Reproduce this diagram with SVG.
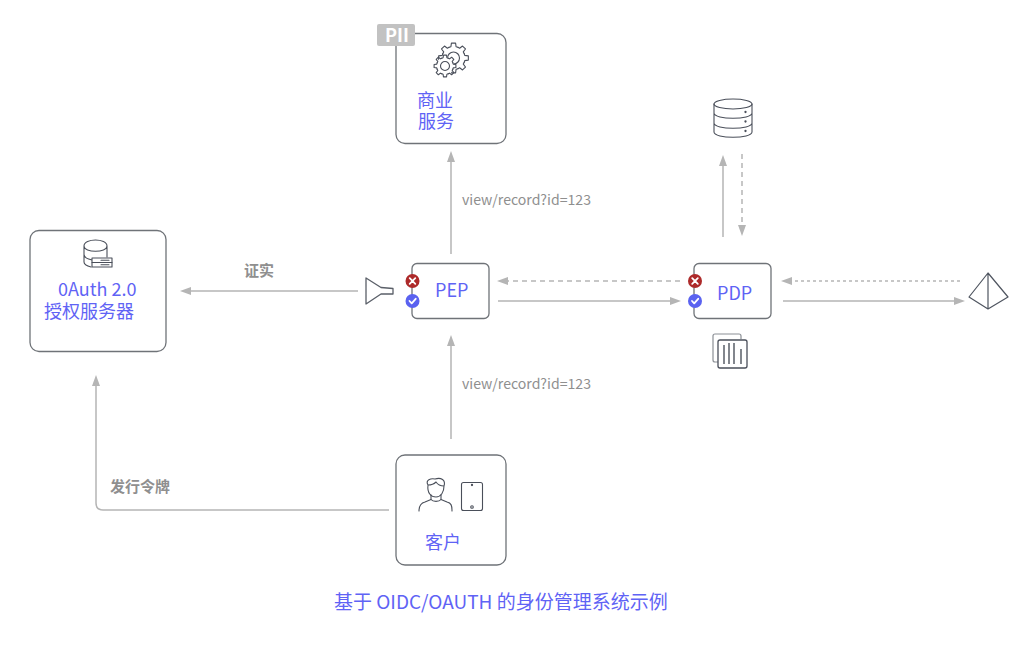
<svg xmlns="http://www.w3.org/2000/svg" width="1024" height="650" viewBox="0 0 1024 650">
<style>
text{font-family:"Noto Sans CJK SC","Noto Sans",sans-serif}
.box{fill:#fff;stroke:#6f7378;stroke-width:1.3}
.lbl{fill:#5f63f5;font-size:18px}
.cap{fill:#8f8f8f;font-size:14.100px}
.bold{fill:#8f8f8f;font-size:15px;font-weight:700}
.ic{fill:none;stroke:#4a4f5a;stroke-width:1.1;stroke-linejoin:round;stroke-linecap:round}
.c{fill:none;stroke:#b5b5b5;stroke-width:1.5}
.d{stroke-dasharray:5 4}
.w{fill:none;stroke:#fff;stroke-width:1.8;stroke-linecap:round;stroke-linejoin:round}
</style>
<defs>
<marker id="a" markerUnits="userSpaceOnUse" markerWidth="12" markerHeight="10" refX="1" refY="4" orient="auto"><path d="M0 4L11 0V8Z" fill="#b5b5b5" transform="translate(11 8) rotate(180)"/></marker>
<g id="x"><circle r="7" fill="#ad2a2a"/><path class="w" d="M-2.800-2.800L2.800 2.800M2.800-2.800L-2.800 2.800"/></g>
<g id="v"><circle r="7" fill="#5a62f0"/><path class="w" d="M-3 0L-.8 2.400L3.200-2.200"/></g>
<path id="s" d="M-3.250-7.820L-1.900-8.250L-1.530-10.900H1.530L1.900-8.250L3.250-7.820"/>
<path id="b" d="M-4.430-10.670L-2.600-11.250L-2.090-14.850H2.090L2.600-11.250L4.430-10.670"/>
</defs>
<rect width="1024" height="650" fill="#fff"/>
<g id="connectors">
<path class="c" d="M451 254V161" marker-end="url(#a)"/>
<path class="c" d="M451 439V345" marker-end="url(#a)"/>
<path class="c" d="M358 291H190" marker-end="url(#a)"/>
<path class="c" d="M389 510H103Q96 510 96 503V385" marker-end="url(#a)"/>
<path class="c d" d="M680 281H507" marker-end="url(#a)"/>
<path class="c" d="M498 301H671" marker-end="url(#a)"/>
<path class="c" d="M723 237V165" marker-end="url(#a)"/>
<path class="c d" d="M742 154V226" marker-end="url(#a)"/>
<path class="c" stroke-dasharray="3 3" d="M960 281H791" marker-end="url(#a)"/>
<path class="c" d="M783 301H955" marker-end="url(#a)"/>
<text class="cap" x="462" y="205">view/record?id=123</text>
<text class="cap" x="462" y="389">view/record?id=123</text>
<text class="bold" x="244" y="276">证实</text>
<text class="bold" x="110" y="492">发行令牌</text>
</g>
<g id="oauth">
<rect class="box" x="30" y="230.500" width="136" height="121" rx="9"/>
<g class="ic"><path d="M84 246C84 238 107 238 107 246V257M84 246C84 253 107 253 107 246M84 246V262C84 265 87 266 91 267M84 254C84 258 88 259 92 260"/><rect x="92" y="258" width="20" height="4.500" fill="#fff"/><rect x="92" y="262.500" width="20" height="4.500" fill="#fff"/><path d="M101 260.300H109M101 264.800H109"/></g>
<text class="lbl" x="58" y="296">0Auth 2.0</text>
<text class="lbl" x="44" y="318">授权服务器</text>
</g>
<g id="pii-service">
<rect class="box" x="396" y="33.500" width="110" height="110" rx="9"/>
<rect x="377" y="24" width="38" height="22" rx="2" fill="#c2c2c2"/>
<text x="385" y="42" font-size="18" font-weight="700" fill="#fff">PII</text>
<g class="ic" transform="translate(453.500 58)">
<use href="#b"/><use href="#b" transform="rotate(45)"/><use href="#b" transform="rotate(90)"/><use href="#b" transform="rotate(135)"/><use href="#b" transform="rotate(180)"/><use href="#b" transform="rotate(225)"/><use href="#b" transform="rotate(270)"/><use href="#b" transform="rotate(315)"/>
<circle r="6"/>
</g>
<g class="ic" transform="translate(445 66)">
<circle r="9" fill="#fff" stroke="none"/>
<use href="#s"/><use href="#s" transform="rotate(45)"/><use href="#s" transform="rotate(90)"/><use href="#s" transform="rotate(135)"/><use href="#s" transform="rotate(180)"/><use href="#s" transform="rotate(225)"/><use href="#s" transform="rotate(270)"/><use href="#s" transform="rotate(315)"/>
<circle r="4.500"/>
</g>
<text class="lbl" x="417" y="107">商业</text>
<text class="lbl" x="418" y="128">服务</text>
</g>
<g id="funnel"><path fill="none" stroke="#5a5f68" stroke-width="1.3" stroke-linejoin="round" d="M366 278L381 287.500L393 288.500V294H381L366 304Z"/></g>
<g id="pep">
<rect class="box" x="412" y="263.500" width="77" height="55" rx="5"/>
<use href="#x" x="412.500" y="281"/><use href="#v" x="412.500" y="301"/>
<text class="lbl" x="435" y="297">PEP</text>
</g>
<g id="pdp">
<rect class="box" x="694" y="263.500" width="77" height="55" rx="5"/>
<use href="#x" x="695" y="281"/><use href="#v" x="695" y="301"/>
<text class="lbl" x="717" y="300">PDP</text>
</g>
<g id="database" class="ic">
<ellipse cx="733" cy="104" rx="19" ry="5"/>
<path d="M714 104V132C714 139 752 139 752 132V104M714 113C714 120 752 120 752 113M714 123C714 130 752 130 752 123"/>
<circle cx="745.500" cy="112" r=".6"/><circle cx="745.500" cy="121.500" r=".6"/><circle cx="745.500" cy="131" r=".6"/>
</g>
<g id="policy">
<path fill="none" stroke="#8c9096" stroke-width="1.2" d="M718 362H715Q713 362 713 360V336Q713 334 715 334H739Q741 334 741 336V339"/>
<rect x="718" y="340" width="29" height="28" rx="2" fill="#fff" stroke="#4a4f5a" stroke-width="1.3"/>
<path stroke="#5a5f68" stroke-width="1.500" d="M724 345V364M729 343V364M734 343V364M741 349V364"/>
</g>
<g id="pyramid"><path fill="none" stroke="#4f5560" stroke-width="1.2" stroke-linejoin="round" d="M988 273L1008 297L988 309L969 297ZM988 273V309"/></g>
<g id="client">
<rect class="box" x="396" y="455" width="110" height="110" rx="9"/>
<g class="ic">
<path d="M419 511C419 505 421 503 425 502L431 499.500V495M441 495V499.500L447 502C451 503 452 505 452 511"/>
<path d="M431 499.500C433 502 439 502 441 499.500"/>
<path d="M428 485C425 480 431 478 435 479C441 477 446 480 444 486M428 485C427 493 431 497 436 497C441 497 444 492 444 486M428 485C431 485 434 484 436 482C438 485 441 486 444 486"/>
<rect x="461.500" y="482.500" width="21" height="28" rx="2"/>
<circle cx="472" cy="485" r=".6"/><circle cx="472" cy="507" r="1.300"/>
</g>
<text class="lbl" x="425" y="549">客户</text>
</g>
<text x="334" y="609" font-size="19" fill="#5f63f5">基于 OIDC/OAUTH 的身份管理系统示例</text>
</svg>
